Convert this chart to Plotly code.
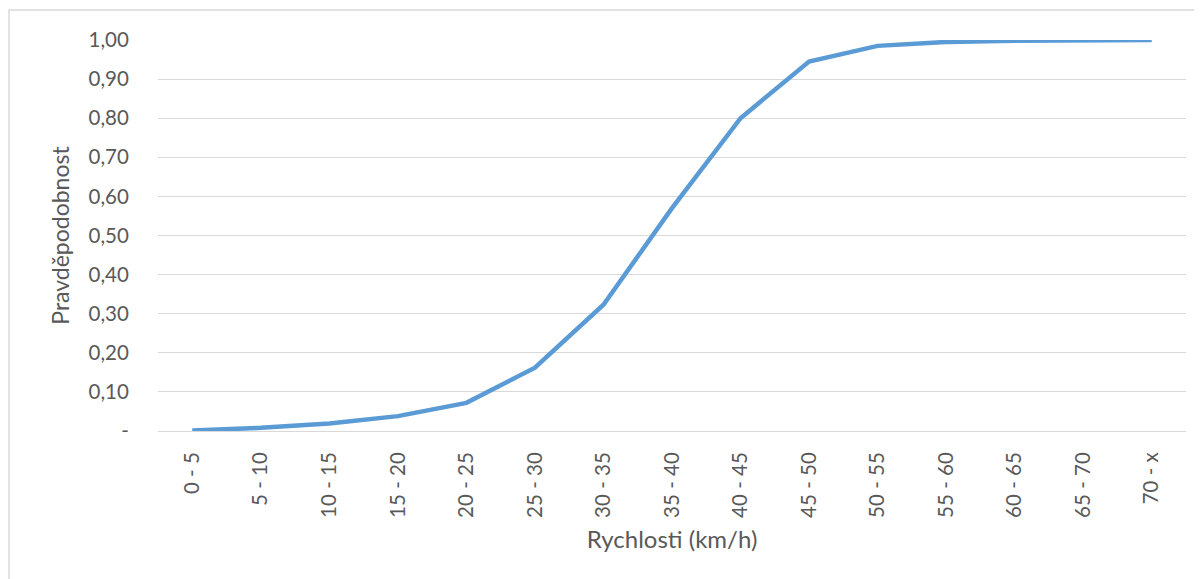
import plotly.graph_objects as go

categories = ["0 - 5", "5 - 10", "10 - 15", "15 - 20", "20 - 25", "25 - 30", "30 - 35",
              "35 - 40", "40 - 45", "45 - 50", "50 - 55", "55 - 60", "60 - 65", "65 - 70", "70 - x"]
probability = [0.001, 0.008, 0.019, 0.038, 0.072, 0.162, 0.323, 0.570, 0.800, 0.945,
               0.985, 0.995, 0.998, 0.999, 1.000]
y_tick_vals = [0, 0.1, 0.2, 0.3, 0.4, 0.5, 0.6, 0.7, 0.8, 0.9, 1.0]
y_tick_text = ["-", "0,10", "0,20", "0,30", "0,40", "0,50", "0,60", "0,70", "0,80", "0,90", "1,00"]

FONT = "Lato, 'Open Sans', sans-serif"
GRAY = "#595959"

# page has an 8px body margin; figure sized to fit the remaining window
W, H = 1194, 571
L, R, T, B = 150, 16, 32, 148
PW = W - L - R
PH = H - T - B

fig = go.Figure()
fig.add_trace(go.Scatter(
    x=list(range(len(categories))), y=probability, mode="lines",
    line=dict(color="#5b9bd5", width=4.5),
    hoverinfo="y",
))

fig.update_layout(
    width=W, height=H,
    margin=dict(l=L, r=R, t=T, b=B),
    paper_bgcolor="white", plot_bgcolor="white",
    showlegend=False,
    font=dict(family=FONT, color=GRAY, size=20),
    xaxis=dict(
        range=[-0.5, len(categories) - 0.5],
        tickmode="array", tickvals=list(range(len(categories))), ticktext=categories,
        tickangle=-90, showgrid=False, zeroline=False,
        showline=True, linecolor="#d9d9d9", linewidth=1,
        ticks="outside", ticklen=12, tickcolor="rgba(0,0,0,0)",
        tickfont=dict(size=20.5, color=GRAY, family=FONT),
        title=dict(text="Rychlosti (km/h)", font=dict(size=24, color=GRAY, family=FONT), standoff=14),
        automargin=False,
    ),
    yaxis=dict(
        range=[0, 1.0],
        tickmode="array", tickvals=y_tick_vals, ticktext=y_tick_text,
        showgrid=True, gridcolor="#d9d9d9", gridwidth=1, zeroline=False,
        showline=False,
        ticks="outside", ticklen=24, tickcolor="rgba(0,0,0,0)",
        tickfont=dict(size=20.5, color=GRAY, family=FONT),
        title=dict(text="Pravděpodobnost", font=dict(size=23, color=GRAY, family=FONT), standoff=12),
        automargin=False,
    ),
    shapes=[dict(
        type="rect", xref="paper", yref="paper",
        x0=(1 - L) / PW, x1=(W + 10 - L) / PW,
        y0=(PH - (H + 10 - T)) / PH, y1=1 + (T - 2) / PH,
        line=dict(color="#d9d9d9", width=1.5), fillcolor="rgba(0,0,0,0)", layer="below",
    )],
)

fig.write_html("out.html")
